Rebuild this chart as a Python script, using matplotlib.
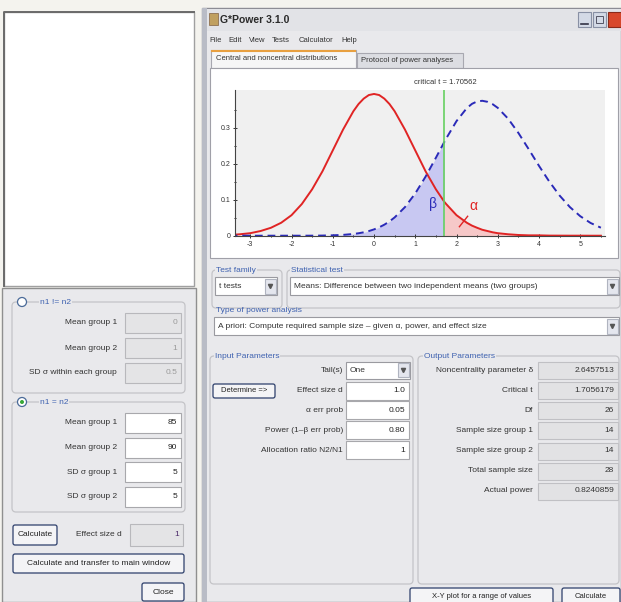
import matplotlib
matplotlib.use("Agg")
import matplotlib.pyplot as plt
import numpy as np
from matplotlib.patches import Rectangle, FancyBboxPatch, Circle

plt.rcParams['font.family'] = ['Liberation Sans', 'DejaVu Sans']
plt.rcParams['axes.unicode_minus'] = False

# distribution curves
x_vals = [-3.5, -3.25, -3, -2.75, -2.5, -2.25, -2, -1.75, -1.5, -1.25, -1, -0.75, -0.5, -0.375,
          -0.25, -0.125, 0, 0.125, 0.25, 0.375, 0.5, 0.75, 1, 1.25, 1.5, 1.70562, 1.75, 2, 2.25,
          2.375, 2.5, 2.625, 2.75, 2.875, 3, 3.25, 3.5, 3.75, 4, 4.25, 4.5, 4.75, 5, 5.25, 5.5]
central = [0.002, 0.004, 0.007, 0.013, 0.022, 0.036, 0.057, 0.088, 0.129, 0.179, 0.237, 0.295,
           0.346, 0.366, 0.381, 0.391, 0.394, 0.391, 0.381, 0.366, 0.346, 0.295, 0.237, 0.179,
           0.129, 0.094, 0.088, 0.057, 0.036, 0.028, 0.022, 0.0165, 0.013, 0.0095, 0.007, 0.004,
           0.002, 0.001, 0.001, 0.0003, 0.0002, 0.0001, 0.0001, 0.0, 0.0]
noncentral = [0, 0, 0, 0, 0, 0, 0, 0, 0.0001, 0.0004, 0.0011, 0.0023, 0.0048, 0.0068, 0.0094,
              0.0129, 0.0175, 0.0233, 0.0306, 0.0397, 0.0508, 0.0794, 0.1175, 0.1641, 0.2166,
              0.2609, 0.2702, 0.3185, 0.3547, 0.3665, 0.3733, 0.375, 0.3722, 0.3656, 0.3554,
              0.3254, 0.2857, 0.2405, 0.1941, 0.1503, 0.1115, 0.0794, 0.0542, 0.0354, 0.0222]
crit_t = 1.70562

x_ticks = [-3, -2, -1, 0, 1, 2, 3, 4, 5]
y_ticks = [0, 0.1, 0.2, 0.3]
y_tick_labels = ['0', '0.1', '0.2', '0.3']

input_labels = ['Tail(s)', 'Effect size d', 'α err prob', 'Power (1–β err prob)', 'Allocation ratio N2/N1']
input_values = ['One', '1.0', '0.05', '0.80', '1']
output_labels = ['Noncentrality parameter δ', 'Critical t', 'Df', 'Sample size group 1',
                 'Sample size group 2', 'Total sample size', 'Actual power']
output_values = ['2.6457513', '1.7056179', '26', '14', '14', '28', '0.8240859']

neq_labels = ['Mean group 1', 'Mean group 2', 'SD σ within each group']
neq_values = ['0', '1', '0.5']
eq_labels = ['Mean group 1', 'Mean group 2', 'SD σ group 1', 'SD σ group 2']
eq_values = ['85', '90', '5', '5']

W, H = 621, 602
fig = plt.figure(figsize=(W / 100, H / 100), dpi=100)
fig.patch.set_facecolor('#f4f3ee')
ax = fig.add_axes([0, 0, 1, 1])
ax.set_xlim(0, W)
ax.set_ylim(H, 0)
ax.axis('off')

BG = '#e9e9ec'
BLUE = '#3f62b0'
TXT = '#333333'


def box(x, y, w, h, fc='white', ec='#a8a8a8', lw=0.8, z=1):
    ax.add_patch(Rectangle((x, y), w, h, facecolor=fc, edgecolor=ec, lw=lw, zorder=z))


def txt(x, y, s, ha='left', size=6, color=TXT, **kw):
    ax.text(x, y, s, ha=ha, va='center', fontsize=size, color=color, zorder=5, **kw)


def button(x, y, w, h, label, size=6):
    ax.add_patch(FancyBboxPatch((x, y), w, h, boxstyle='round,pad=0,rounding_size=2',
                                facecolor='#f4f4f6', edgecolor='#2d3f6b', lw=0.9, zorder=3))
    txt(x + w / 2, y + h / 2, label, ha='center', size=size, color='#222')


def group(x, y, w, h, label, bg=BG, lc=BLUE, lx=None):
    ax.add_patch(FancyBboxPatch((x, y), w, h, boxstyle='round,pad=0,rounding_size=4',
                                facecolor='none', edgecolor='#c4c4c8', lw=0.9, zorder=2))
    if label:
        lx = x + 6 if lx is None else lx
        t = ax.text(lx, y, label, ha='left', va='center', fontsize=6, color=lc, zorder=5)
        t.set_bbox(dict(facecolor=bg, edgecolor='none', pad=0.5))


def combo(x, y, w, h, label):
    box(x, y, w, h, fc='white', ec='#9a9aa0', z=3)
    box(x + w - 12, y + 1.5, 10.5, h - 3, fc='#e4e6ee', ec='#b0b4c0', z=4)
    ax.plot(x + w - 6.75, y + h / 2, marker='v', ms=3, color='#555', zorder=6)
    txt(x + 4, y + h / 2, label)


def radio(x, y, on):
    ax.add_patch(Circle((x, y), 4.5, facecolor='white', edgecolor='#4a6a98', lw=0.9, zorder=4))
    if on:
        ax.add_patch(Circle((x, y), 2, facecolor='#38a838', edgecolor='none', zorder=5))


# ---- left dialog ----
box(4, 12, 190, 274, fc='white', ec='#a0a0a0', lw=1.0)
ax.plot([4, 4, 194], [286, 12, 12], color='#6a6a6a', lw=1.4, zorder=3)
box(2, 288, 194, 314, fc=BG, ec='#8f8f8f', lw=1.0)

group(12, 302, 173, 91, 'n1 != n2', lx=40)
radio(22, 302, False)
for i, (lab, val) in enumerate(zip(neq_labels, neq_values)):
    yy = 323 + i * 25
    txt(117, yy, lab, ha='right')
    box(125, yy - 10, 56, 20, fc='#e4e4e6', ec='#b8b8bc')
    txt(177, yy, val, ha='right', color='#9a9a9a')

group(12, 402, 173, 110, 'n1 = n2', lx=40)
radio(22, 402, True)
for i, (lab, val) in enumerate(zip(eq_labels, eq_values)):
    yy = 423 + i * 24.5
    txt(117, yy, lab, ha='right')
    box(125, yy - 10, 56, 20, fc='white', ec='#a8a8ac')
    txt(177, yy, val, ha='right', color='#222')

button(13, 525, 44, 20, 'Calculate')
txt(122, 535, 'Effect size d', ha='right')
box(130, 524, 53, 22, fc='#e4e4e6', ec='#b8b8bc')
txt(179, 535, '1', ha='right', color='#4b2a6a')
button(13, 554, 171, 19, 'Calculate and transfer to main window')
button(142, 583, 42, 18, 'Close')

# ---- main window ----
box(202, 8, 419, 594, fc=BG, ec='#8c8c94', lw=1.0)
box(202, 8, 5, 594, fc='#b9bcc6', ec='none')
box(207, 9, 414, 22, fc='#e2e3e7', ec='none')
box(209, 13, 9, 12, fc='#c0a060', ec='#806040', lw=0.5)
txt(220, 20, 'G*Power 3.1.0', size=7.5, weight='bold', color='#2a2a2a')
box(578, 12, 13, 15, fc='#d4dae6', ec='#8890a4')
ax.plot([581, 588], [24, 24], color='#334', lw=1.2, zorder=4)
box(593, 12, 13, 15, fc='#d4dae6', ec='#8890a4')
box(596, 15.5, 7, 7, fc='none', ec='#556', lw=0.7)
box(608, 12, 13, 15, fc='#d8482c', ec='#8a2a1a')

menu = ['File', 'Edit', 'View', 'Tests', 'Calculator', 'Help']
mx = [209, 228, 249, 272, 299, 341]
for m, xx in zip(menu, mx):
    txt(xx, 40, m, size=5.5, color='#333')

# tabs
box(357, 53, 106, 15, fc='#dcdde2', ec='#a8a8b0')
txt(361, 61, 'Protocol of power analyses', size=5.5, color='#333')
box(211, 50, 145, 18, fc='#f6f6f6', ec='#a8a8b0')
ax.plot([212, 355], [50.5, 50.5], color='#e8a040', lw=1.5, zorder=3)
txt(216, 59, 'Central and noncentral distributions', size=5.5, color='#333')

# plot panel
box(210, 68, 408, 190, fc='white', ec='#a0a0a8')
txt(445, 82, 'critical t = ' + f'{crit_t:.5f}', ha='center', size=5.5, color='#333')

pax = fig.add_axes([235 / W, 1 - 235.7 / H, (605 - 235) / W, (235.7 - 90) / H])
pax.set_facecolor('#f0f0f0')
xv = np.array(x_vals)
cv = np.array(central)
nv = np.array(noncentral)
left = xv <= crit_t + 1e-9
right = xv >= crit_t - 1e-9
pax.fill_between(xv[left], nv[left], color='#c8c8f2', lw=0)
pax.fill_between(xv[right], cv[right], color='#f6c8c8', lw=0)
pax.plot(xv, cv, color='#e02424', lw=1.4)
pax.plot(xv, nv, color='#2a2ab8', lw=1.4, ls=(0, (4, 2.5)))
pax.axvline(crit_t, color='#66d060', lw=1.2)
pax.text(1.42, 0.088, 'β', color='#2a2ab8', fontsize=10, ha='center', va='center')
pax.text(2.42, 0.082, 'α', color='#e02424', fontsize=10, ha='center', va='center')
pax.plot([2.27, 2.07], [0.054, 0.025], color='#e02424', lw=1.0)
pax.set_xlim(-3.37, 5.6)
pax.set_ylim(0, 0.405)
pax.set_xticks(x_ticks)
pax.set_xticks(np.arange(-3, 5.6, 0.5), minor=True)
pax.set_yticks(y_ticks)
pax.set_yticklabels(y_tick_labels)
pax.set_yticks(np.arange(0, 0.39, 0.05), minor=True)
pax.tick_params(labelsize=5, length=3, width=0.7, colors='#333', pad=2, direction='inout')
pax.tick_params(which='minor', length=2, width=0.6, direction='inout')
for s in ['top', 'right']:
    pax.spines[s].set_visible(False)
for s in ['left', 'bottom']:
    pax.spines[s].set_color('#444')
    pax.spines[s].set_linewidth(0.8)

# test selection
group(212, 270, 70, 38, 'Test family', bg=BG, lc=BLUE, lx=216)
combo(215, 277, 62, 18, 't tests')
group(287, 270, 333, 38, 'Statistical test', bg=BG, lc=BLUE, lx=291)
combo(290, 277, 329, 18, 'Means: Difference between two independent means (two groups)')
txt(216, 310, 'Type of power analysis', color=BLUE)
combo(214, 317, 405, 18, 'A priori: Compute required sample size – given α, power, and effect size')

# parameters
group(210, 356, 203, 228, 'Input Parameters', lx=215)
group(418, 356, 201, 228, 'Output Parameters', lx=424)

button(213, 384, 62, 14, 'Determine =>', size=5.5)
in_y = [370, 391, 410, 430, 450]
for i, (lab, val, yy) in enumerate(zip(input_labels, input_values, in_y)):
    txt(343, yy, lab, ha='right')
    if i == 0:
        combo(346, yy - 8.5, 64, 17, val)
    else:
        box(346, yy - 9, 63, 18, fc='white', ec='#a8a8ac')
        txt(405, yy, val, ha='right', color='#222')

out_y = [370, 390, 410, 430, 451, 471, 491]
for lab, val, yy in zip(output_labels, output_values, out_y):
    txt(533, yy, lab, ha='right')
    box(538, yy - 8.5, 80, 17, fc='#e2e2e4', ec='#c0c0c4')
    txt(614, yy, val, ha='right', color='#333')

button(410, 588, 143, 16, 'X-Y plot for a range of values', size=5.5)
button(562, 588, 58, 16, 'Calculate', size=5.5)

fig.savefig('out.png', dpi=100)
